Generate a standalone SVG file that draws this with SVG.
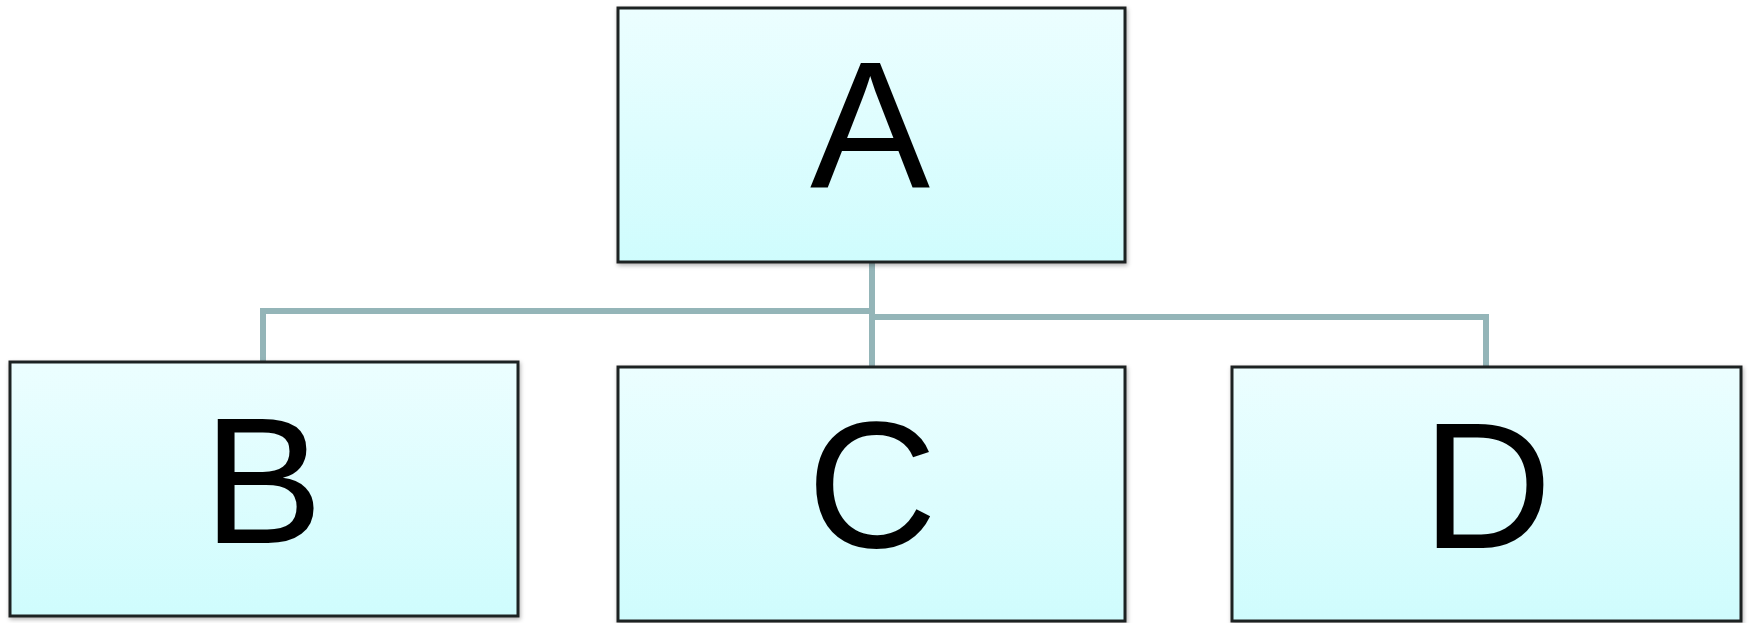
<svg xmlns="http://www.w3.org/2000/svg" width="1750" height="623" viewBox="0 0 1750 623">
<style>
.box{fill:url(#g);stroke:#1f2323;stroke-width:3;filter:url(#sh)}
.lbl{font-family:"Liberation Sans",Arial,sans-serif;font-size:180px;fill:#000;text-anchor:middle}
.con{fill:none;stroke:#94b5b8;stroke-width:6}
</style>
<defs>
<linearGradient id="g" x1="0" y1="0" x2="0" y2="1">
<stop offset="0" stop-color="#ecfeff"/>
<stop offset="1" stop-color="#cffcfd"/>
</linearGradient>
<filter id="sh" x="-5%" y="-5%" width="110%" height="115%">
<feDropShadow dx="1" dy="2" stdDeviation="2" flood-color="#000" flood-opacity="0.3"/>
</filter>
</defs>
<g id="connectors">
<path class="con" d="M872 262 V367"/>
<path class="con" d="M872 311 H263 V362"/>
<path class="con" d="M872 317 H1486 V367"/>
</g>
<g id="A"><rect class="box" x="618" y="8" width="507" height="254"/><text class="lbl" x="870" y="187">A</text></g>
<g id="B"><rect class="box" x="10" y="362" width="508" height="254"/><text class="lbl" x="263" y="543">B</text></g>
<g id="C"><rect class="box" x="618" y="367" width="507" height="254"/><text class="lbl" x="872" y="547">C</text></g>
<g id="D"><rect class="box" x="1232" y="367" width="509" height="254"/><text class="lbl" x="1487" y="548">D</text></g>
</svg>
